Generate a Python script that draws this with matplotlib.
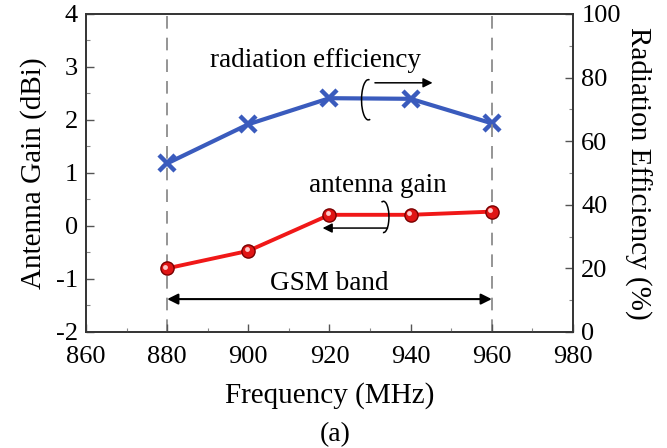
import matplotlib
matplotlib.use("Agg")
import matplotlib.pyplot as plt
from matplotlib.patches import Arc
from matplotlib.transforms import offset_copy
from matplotlib.ticker import MultipleLocator

plt.rcParams['font.family'] = ['Liberation Serif', 'DejaVu Serif']
plt.rcParams['axes.unicode_minus'] = False

freq = [880, 900, 920, 940, 960]
gain_dbi = [-0.80, -0.47, 0.21, 0.21, 0.27]
efficiency_pct = [53.0, 65.3, 73.5, 73.3, 65.6]

x_ticks = [860, 880, 900, 920, 940, 960, 980]
gain_ticks = [-2, -1, 0, 1, 2, 3, 4]
eff_ticks = [0, 20, 40, 60, 80, 100]
band_edges = [880, 960]

fig = plt.figure(figsize=(6.67, 4.48), dpi=100)
ax = fig.add_axes([0.129, 0.259, 0.730, 0.710])
ax2 = ax.twinx()

ax.set_xlim(860, 980)
ax.set_ylim(-2, 4)
ax2.set_ylim(0, 100)
ax.set_xticks(x_ticks)
ax.set_yticks(gain_ticks)
ax2.set_yticks(eff_ticks)
ax.xaxis.set_minor_locator(MultipleLocator(10))
ax.yaxis.set_minor_locator(MultipleLocator(0.5))
ax2.yaxis.set_minor_locator(MultipleLocator(10))

for a in (ax, ax2):
    a.tick_params(which='major', direction='in', length=6, width=1, labelsize=19, color='#555555')
    a.tick_params(which='minor', direction='in', length=3, width=0.8, color='#888888')
    for s in a.spines.values():
        s.set_color('#333333')
        s.set_linewidth(1.2)
ax.tick_params(axis='x', pad=10)
ax.tick_params(axis='y', pad=6)
ax2.tick_params(axis='y', pad=6)

for xe in band_edges:
    ax.axvline(xe, color='#8c8c8c', lw=1.3, ls=(0, (7, 5)), zorder=1)

# efficiency (right axis)
ax2.plot(freq, efficiency_pct, color='#3a5bbd', lw=3, marker='x', markersize=12,
         markeredgewidth=3.2, zorder=4, clip_on=False)

# gain (left axis)
ax.plot(freq, gain_dbi, color='#f01818', lw=2.8, marker='o', markersize=9.5,
        markerfacecolor='#e01515', markeredgecolor='#7a0000', markeredgewidth=1.0,
        zorder=5, clip_on=False)
hl = offset_copy(ax.transData, fig=fig, x=-1.3, y=1.3, units='points')
ax.plot(freq, gain_dbi, ls='none', marker='o', markersize=3.5, color='#ffc8c8',
        markeredgewidth=0, transform=hl, zorder=6, clip_on=False)

ax.set_zorder(ax2.get_zorder() + 1)
ax.patch.set_visible(False)

ax.set_xlabel('Frequency (MHz)', fontsize=21, labelpad=10)
ax.set_ylabel('Antenna Gain (dBi)', fontsize=21, labelpad=6)
ax2.set_ylabel('Radiation Efficiency (%)', fontsize=21, rotation=270, labelpad=22)

# annotations
ax.text(916.5, 3.13, 'radiation efficiency', fontsize=19.5, ha='center', va='center', zorder=7)
ax.annotate('', xy=(945.4, 2.70), xytext=(931.2, 2.70),
            arrowprops=dict(arrowstyle='-|>', lw=1.1, color='black', mutation_scale=14,
                            shrinkA=0, shrinkB=0), zorder=7)
ax.add_patch(Arc((929.6, 2.38), 3.4, 0.76, theta1=55, theta2=320, lw=1.1, color='black', zorder=7))

ax.text(932.0, 0.77, 'antenna gain', fontsize=19.5, ha='center', va='center', zorder=7)
ax.annotate('', xy=(918.3, -0.04), xytext=(934.3, -0.04),
            arrowprops=dict(arrowstyle='-|>', lw=1.1, color='black', mutation_scale=14,
                            shrinkA=0, shrinkB=0), zorder=7)
ax.add_patch(Arc((933.3, 0.17), 2.7, 0.59, theta1=-115, theta2=150, lw=1.1, color='black', zorder=7))

ax.text(920, -1.08, 'GSM band', fontsize=19.5, ha='center', va='center', zorder=7)
ax.annotate('', xy=(band_edges[1], -1.38), xytext=(band_edges[0], -1.38),
            arrowprops=dict(arrowstyle='<|-|>', lw=1.5, color='black', mutation_scale=16,
                            shrinkA=0, shrinkB=0), zorder=7)

fig.text(0.502, 0.03, '(a)', fontsize=20, ha='center', va='center')

fig.savefig('out.png', dpi=100)
